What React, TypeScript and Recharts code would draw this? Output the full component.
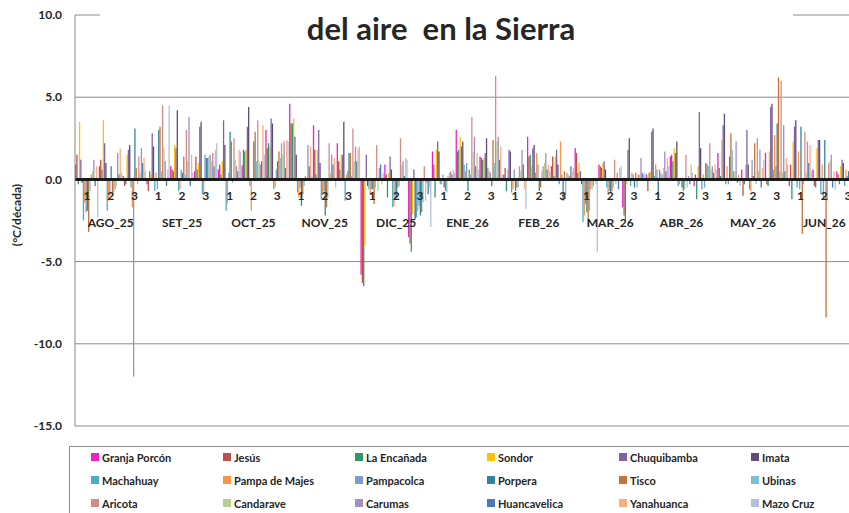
import React from 'react';
import { BarChart, Bar, XAxis, YAxis, CartesianGrid, ReferenceLine } from 'recharts';

const months = ['AGO_25', 'SET_25', 'OCT_25', 'NOV_25', 'DIC_25', 'ENE_26', 'FEB_26', 'MAR_26', 'ABR_26', 'MAY_26', 'JUN_26'];
const decades = ['1', '2', '3'];
const yTicks = [-15, -10, -5, 0, 5, 10];

const stations = [
  'Granja Porcón', 'Jesús', 'La Encañada', 'Sondor', 'Chuquibamba', 'Imata',
  'Machahuay', 'Pampa de Majes', 'Pampacolca', 'Porpera', 'Tisco', 'Ubinas',
  'Aricota', 'Candarave', 'Carumas', 'Huancavelica', 'Yanahuanca', 'Mazo Cruz',
];

const colors = [
  '#EE1FC3', '#C0504D', '#2E9966', '#FFC000', '#8064A2', '#5F4B7B',
  '#4BACC6', '#F79646', '#7F9CD0', '#31859C', '#C47436', '#7EBFD3',
  '#D38C8A', '#B4CF8D', '#A28FC3', '#4A7AB8', '#FAAE7B', '#B3C0DA',
];

// one value per decade, AGO_25 dec 1 ... JUN_26 dec 3
const granjaPorcon = [0.9, 0.8, 0.2, -0.3, 0.8, 0.5, 0.6, 0.85, 3.0, 4.6, 3.3, 2.2, -5.8, 0.9, -3.5, 1.7, 3.0, 1.4, 0.3, 2.6, 0.8, 1.9, 0.9, -1.7, 0.3, 1.4, -0.4, 1.6, 0.6, 1.6, -0.4, 0.6, 0.5];
const jesus = [1.5, 1.2, -0.4, -0.7, 0.6, 1.4, 0.9, 1.8, 1.9, 3.4, 1.8, 1.1, -6.3, 0.3, -3.9, 0.9, 1.7, 1.3, 0.7, 1.4, 1.4, 1.6, 0.8, -2.2, -0.7, 1.5, 0.3, 0.7, -1.0, -0.3, 0.9, -0.4, 0.3];
const laEncanada = [-0.3, 0.6, -0.3, 0.5, 0.5, 0.6, 0.3, 1.7, 2.2, 3.4, 0.3, 0.6, -6.5, -1.1, -4.4, -1.1, 1.8, 1.2, -0.7, 1.5, 0.2, 0.4, 0.7, -2.5, 0.4, 1.1, -1.2, 0.2, -0.3, -0.4, -1.2, -0.5, -0.3];
const sondor = [3.5, 3.6, 1.5, 0.3, 2.1, 1.0, 1.1, 1.8, 2.0, 3.7, 1.8, 1.5, -4.0, 0.4, -2.1, 1.8, 2.6, 1.3, 0.6, 0.8, 1.4, 1.0, 1.0, -0.3, 0.5, 1.9, 0.8, 2.4, 0.9, 1.7, 2.3, 1.9, 0.8];
const chuquibamba = [1.2, 2.2, 1.8, 2.8, 1.9, 3.2, 3.6, 3.2, 3.7, 2.6, 3.0, 1.5, 1.5, 1.4, 0.6, 2.3, 2.0, 1.6, 1.8, 1.9, 1.8, 0.5, 1.1, 1.8, 2.9, 1.6, 4.1, 3.3, 3.0, 4.4, 3.2, 2.4, 1.2];
const imata = [-0.2, 1.0, 2.1, 2.0, 4.2, 3.5, 2.1, 4.4, 3.4, 1.5, 1.0, 3.5, -0.4, 0.6, -2.4, 1.7, 2.3, 2.5, 1.7, 2.1, 0.9, -0.3, 0.6, 2.5, 3.1, 2.3, 1.9, 4.0, 0.9, 4.6, 3.6, 2.4, 1.0];
const machahuay = [-2.5, -1.9, -0.5, -0.7, -0.7, -0.9, -1.9, -0.4, -0.6, -0.8, -1.2, -1.3, -0.6, -1.7, -2.3, -0.3, 0.9, 0.7, -0.8, 0.4, -0.3, -2.6, -0.5, -0.4, 0.2, -0.4, -0.6, -0.3, -0.6, 0.6, -0.5, -0.9, -0.4];
const pampaDeMajes = [-1.4, -1.3, -1.7, 0.4, -0.6, -0.8, -1.4, -1.9, -0.5, -1.1, -0.8, 0.3, -0.9, -1.6, -1.9, -0.3, 0.5, 0.5, -0.6, 1.6, 2.3, -2.2, -0.8, 0.4, 0.9, -0.3, 0.3, 0.8, -0.7, 2.7, 1.7, 0.9, 0.6];
const pampacolca = [-2.0, -1.0, -12.0, -0.6, 0.6, 1.5, 0.4, 0.0, 0.6, -0.5, -0.7, 0.5, -0.6, -1.2, -1.6, 0.3, 1.0, 0.4, 0.6, 0.9, 0.3, -1.5, -0.7, 0.3, 0.6, 0.1, -0.5, -0.3, 1.2, 0.8, -0.6, -1.1, 0.2];
const porpera = [-1.9, 0.8, 3.1, 3.0, 0.4, 1.3, 2.9, 2.3, 1.1, -1.6, -2.2, 1.6, -0.6, -1.1, -2.2, -0.5, -0.7, -0.4, -0.7, -0.7, -1.3, -2.0, -0.8, -0.5, -0.9, -0.5, 1.0, 1.4, 0.2, 3.4, 3.2, 2.4, 0.5];
const tisco = [-3.2, -1.0, 0.7, 3.2, 1.4, 1.3, 2.3, 2.9, 1.7, -0.9, -1.7, 1.6, -1.5, -0.5, -2.0, -0.7, 0.6, 2.4, -0.5, -0.5, 0.5, -2.9, -0.7, 0.4, 0.6, -0.7, 0.9, 2.8, 2.2, 6.2, -3.3, -8.4, 0.4];
const ubinas = [-0.7, -0.8, -0.3, 0.5, 0.3, 1.4, -0.2, 1.1, 1.3, -0.4, -1.1, 0.2, -0.5, -0.4, -1.4, -0.8, 0.3, 1.0, -0.5, 0.5, -1.0, -1.9, -0.5, -0.5, 0.4, -0.6, 0.8, 1.8, -0.3, 0.5, -0.3, -1.3, 0.3];
const aricota = [0.3, -0.6, 1.4, 4.5, 3.0, 1.5, 2.5, 3.6, 2.2, 0.2, 2.2, 3.1, 2.1, 2.5, 0.8, 0.2, 3.8, 6.3, 0.8, 0.8, 0.4, -0.6, 1.2, 0.3, 0.3, 1.5, 2.2, 0.5, 2.5, 6.0, 2.9, 1.0, 0.6];
const candarave = [0.5, -0.4, 0.4, 1.9, 1.1, 1.1, 1.2, 1.1, 1.5, 0.1, 0.4, 1.1, -0.7, 0.9, -1.3, 0.4, 1.7, 2.3, 0.5, 1.0, 0.3, -0.6, -0.3, 0.3, 0.7, -0.5, 0.6, 0.5, 0.5, 0.4, 0.4, 1.1, 0.2];
const carumas = [1.2, 1.6, 1.9, 1.1, 3.8, 1.6, 0.8, 0.9, 2.3, 2.1, 1.5, 2.0, 0.7, 1.1, -0.2, 0.5, 2.6, 2.6, 1.8, 1.6, 0.2, -0.4, 0.4, 1.3, 1.7, 0.2, 0.8, 2.3, 1.8, 3.3, 2.3, 1.5, 0.8];
const huancavelica = [-0.4, 0.3, 1.0, -0.4, -0.4, 0.8, 0.5, 1.1, 0.7, 0.8, 0.9, 1.1, 0.9, 0.2, -0.9, 0.3, 0.8, 1.2, 0.9, 0.6, 0.8, 0.1, -0.6, 0.4, 0.5, -0.3, 0.4, -0.2, -0.5, 0.5, 1.0, -0.5, 0.3];
const yanahuanca = [0.8, 1.9, 1.3, 0.6, 1.5, 1.8, 1.8, 3.3, 2.4, 2.0, 1.3, 1.9, -0.3, 1.3, -0.5, 0.6, 1.6, 2.0, -0.6, 0.9, 0.5, -0.3, 0.7, 0.3, 1.3, 0.9, 0.9, 0.3, 0.7, 1.3, 2.1, 0.5, 0.4];
const mazoCruz = [-2.3, 0.4, 0.5, 4.5, 0.4, 2.2, 1.7, 1.5, 2.3, 0.2, -0.5, 2.0, 0.4, 1.2, -2.9, 0.4, 0.6, 0.3, -1.8, 0.5, 0.7, -4.4, 0.8, 0.4, 0.8, 0.4, 0.6, -0.4, 1.2, 0.9, 0.5, -0.6, 0.5];

const seriesValues = [
  granjaPorcon, jesus, laEncanada, sondor, chuquibamba, imata,
  machahuay, pampaDeMajes, pampacolca, porpera, tisco, ubinas,
  aricota, candarave, carumas, huancavelica, yanahuanca, mazoCruz,
];

const data = months.flatMap((m, mi) =>
  decades.map((d, di) => {
    const i = mi * 3 + di;
    const row: Record<string, string | number> = { key: `${m}|${d}` };
    seriesValues.forEach((vals, s) => {
      row[`s${s}`] = vals[i];
    });
    return row;
  })
);

const Y_MIN = -15;
const Y_MAX = 10;
const PLOT_TOP = 15;
const PLOT_BOTTOM = 426;
const ZERO_Y = PLOT_TOP + ((Y_MAX - 0) / (Y_MAX - Y_MIN)) * (PLOT_BOTTOM - PLOT_TOP);
const FONT = 'Lato, "Liberation Sans", sans-serif';

const DecadeTick = (props: any) => {
  const { x, payload } = props;
  const [month, dec] = String(payload.value).split('|');
  return (
    <g>
      <text x={x} y={ZERO_Y + 21} textAnchor="middle" fontFamily={FONT} fontWeight="bold" fontSize={12} fill="#262626">
        {dec}
      </text>
      {dec === '2' && (
        <text x={x} y={ZERO_Y + 48} textAnchor="middle" fontFamily={FONT} fontWeight="bold" fontSize={12} fill="#262626">
          {month}
        </text>
      )}
    </g>
  );
};

const App: React.FC = () => {
  return (
    <div style={{ position: 'fixed', left: 0, top: 0, width: 849, height: 513, overflow: 'hidden', background: '#fff' }}>
      <div style={{ position: 'absolute', left: 0, top: 0 }}>
        <BarChart
          width={880}
          height={513}
          data={data}
          margin={{ top: PLOT_TOP, right: 20, bottom: 513 - PLOT_BOTTOM - 1, left: 0 }}
          barGap={0}
          barSize={1.3}
        >
          <CartesianGrid vertical={false} stroke="#8c8c8c" />
          <XAxis dataKey="key" interval={0} height={1} axisLine={false} tickLine={false} tick={<DecadeTick />} />
          <YAxis
            width={75}
            domain={[Y_MIN, Y_MAX]}
            ticks={yTicks}
            allowDataOverflow
            tickFormatter={(v: number) => v.toFixed(1)}
            tickLine={false}
            tickSize={0}
            tickMargin={13}
            axisLine={{ stroke: '#868686' }}
            tick={{ fill: '#262626', fontSize: 12, fontWeight: 'bold', fontFamily: FONT }}
          />
          {stations.map((name, s) => (
            <Bar key={name} dataKey={`s${s}`} name={name} fill={colors[s]} isAnimationActive={false} />
          ))}
          <ReferenceLine y={0} stroke="#1a1a1a" strokeWidth={3} />
        </BarChart>
      </div>

      <div
        style={{
          position: 'absolute', left: 100, top: 0, width: 693, height: 50, background: '#fff',
        }}
      />
      <div
        style={{
          position: 'absolute', left: 441, top: 12, transform: 'translateX(-50%)', whiteSpace: 'pre',
          fontFamily: FONT, fontWeight: 'bold', fontSize: 31, color: '#262626', lineHeight: '32px',
        }}
      >
        {'del aire  en la Sierra'}
      </div>

      <div
        style={{
          position: 'absolute', left: 16, top: 215, transform: 'translate(-50%, -50%) rotate(-90deg)',
          fontFamily: FONT, fontWeight: 'bold', fontSize: 12, color: '#262626', whiteSpace: 'nowrap',
        }}
      >
        (°C/década)
      </div>

      <div
        style={{
          position: 'absolute', left: 69, top: 446, width: 820, height: 90,
          border: '1px solid #8c8c8c', boxSizing: 'border-box',
        }}
      >
        {stations.map((name, s) => {
          const col = s % 6;
          const row = Math.floor(s / 6);
          return (
            <div
              key={name}
              style={{
                position: 'absolute', left: 21 + col * 132, top: 3 + row * 23, height: 14,
                display: 'flex', alignItems: 'center', whiteSpace: 'nowrap',
                fontFamily: FONT, fontWeight: 'bold', fontSize: 11, color: '#262626',
              }}
            >
              <span style={{ display: 'inline-block', width: 8, height: 8, background: colors[s], marginRight: 3 }} />
              {name}
            </div>
          );
        })}
      </div>
    </div>
  );
};

export default App;
